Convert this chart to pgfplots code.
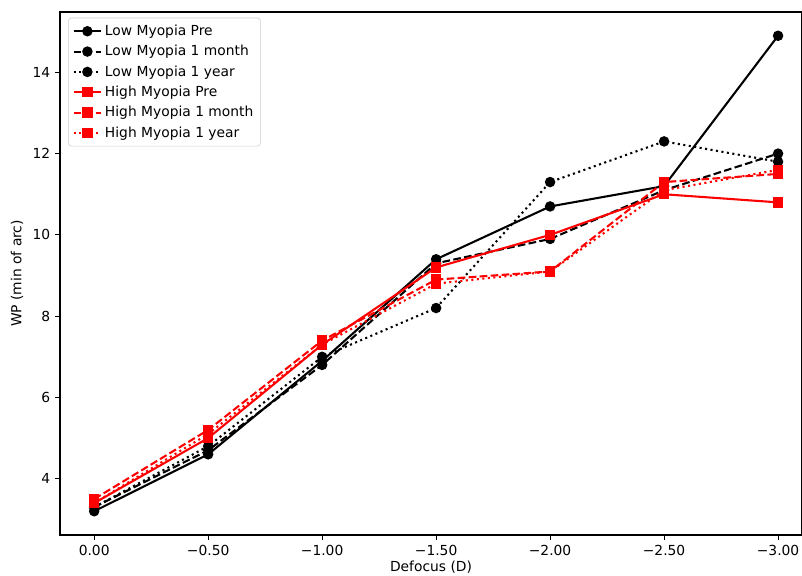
\documentclass[border=0pt]{standalone}
\usepackage{fontspec}
\setmainfont{DejaVu Sans}
\usepackage{pgfplots}
\pgfplotsset{compat=1.18}
\begin{document}
\begin{tikzpicture}
\begin{axis}[
    scale only axis,
    width=7.42in, height=5.23in,
    x dir=reverse,
    xmin=-3.105, xmax=0.15,
    ymin=2.615, ymax=15.485,
    xtick={0,-0.5,-1,-1.5,-2,-2.5,-3},
    xticklabels={0.00,−0.50,−1.00,−1.50,−2.00,−2.50,−3.00},
    ytick={4,6,8,10,12,14},
    tick align=outside, tick pos=left,
    major tick length=3.5pt,
    tick style={line width=0.8pt, black},
    axis line style={line width=0.8pt},
    font=\fontsize{10}{12}\selectfont,
    /pgf/number format/assume math mode=true,
    xlabel={Defocus (D)},
    xlabel style={yshift=2.5pt},
    ylabel={WP (min of arc)},
    every axis plot/.append style={line width=1.5pt, mark size=3pt},
    legend style={at={(0.011,0.989)}, anchor=north west, draw=black!20,
        rounded corners=2pt, fill=white,
        font=\fontsize{10}{12}\selectfont, row sep=1.6pt, inner sep=3pt},
    legend cell align=left,
    legend image code/.code={
        \draw[mark repeat=2,mark phase=2] plot coordinates {(0cm,0cm) (0.35cm,0cm) (0.7cm,0cm)};
    },
]
\addplot[black, solid, mark=*, mark options={solid}] coordinates {
    (0,3.2) (-0.5,4.6) (-1,6.9) (-1.5,9.4) (-2,10.7) (-2.5,11.2) (-3,14.9)};
\addlegendentry{Low Myopia Pre}
\addplot[black, dash pattern=on 5.55pt off 2.4pt, mark=*, mark options={solid}] coordinates {
    (0,3.3) (-0.5,4.7) (-1,6.8) (-1.5,9.3) (-2,9.9) (-2.5,11.1) (-3,12.0)};
\addlegendentry{Low Myopia 1 month}
\addplot[black, dash pattern=on 1.5pt off 2.5pt, mark=*, mark options={solid}] coordinates {
    (0,3.3) (-0.5,4.8) (-1,7.0) (-1.5,8.2) (-2,11.3) (-2.5,12.3) (-3,11.8)};
\addlegendentry{Low Myopia 1 year}
\addplot[red, solid, mark=square*, mark options={solid}] coordinates {
    (0,3.4) (-0.5,5.0) (-1,7.3) (-1.5,9.2) (-2,10.0) (-2.5,11.0) (-3,10.8)};
\addlegendentry{High Myopia Pre}
\addplot[red, dash pattern=on 5.55pt off 2.4pt, mark=square*, mark options={solid}] coordinates {
    (0,3.5) (-0.5,5.2) (-1,7.4) (-1.5,8.9) (-2,9.1) (-2.5,11.3) (-3,11.5)};
\addlegendentry{High Myopia 1 month}
\addplot[red, dash pattern=on 1.5pt off 2.5pt, mark=square*, mark options={solid}] coordinates {
    (0,3.4) (-0.5,5.1) (-1,7.3) (-1.5,8.8) (-2,9.1) (-2.5,11.1) (-3,11.6)};
\addlegendentry{High Myopia 1 year}
\end{axis}
\pgfresetboundingbox
\path[use as bounding box] (current axis.south west) ++(-0.60in,-0.40in) rectangle ++(8.02in,5.75in);
\end{tikzpicture}
\end{document}
